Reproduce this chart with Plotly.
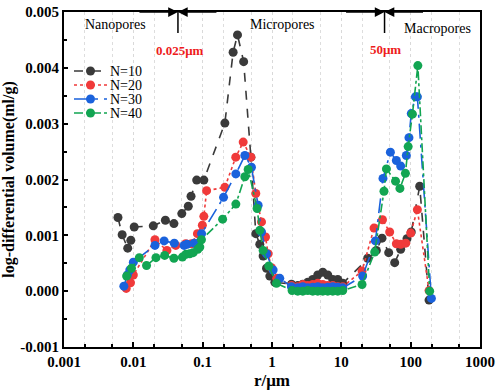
import numpy as np
import plotly.graph_objects as go

# ---------------- data ----------------
r_n10 = [0.0060, 0.0069, 0.0083, 0.0092, 0.0103, 0.0194, 0.029, 0.0385, 0.050, 0.062, 0.068,
         0.082, 0.104, 0.209, 0.275, 0.318, 0.390, 0.496, 0.584, 0.667, 0.745, 0.833, 0.93,
         1.10, 1.91, 2.35, 2.78, 3.28, 3.87, 4.57, 5.40, 6.37, 7.52, 8.88, 10.5, 24.0, 32.0,
         38.6, 48.2, 58.8, 71.8, 88.5, 102, 135, 184]
v_n10 = [0.00132, 0.00101, 0.00077, 0.00091, 0.00115, 0.00117, 0.00127, 0.00121, 0.00139,
         0.00152, 0.00170, 0.00199, 0.00199, 0.00301, 0.00428, 0.00459, 0.00411, 0.00240,
         0.00103, 0.00084, 0.00063, 0.00041, 0.00027, 0.00016, 0.000125, 0.00010, 0.000125,
         0.00016, 0.00021, 0.00029, 0.00034, 0.00029, 0.00021, 0.00021, 0.00014, 0.00059,
         0.00073, 0.00095, 0.00069, 0.00051, 0.00075, 0.00094, 0.00106, 0.00188, -0.00016]

r_n20 = [0.0079, 0.0091, 0.0100, 0.0205, 0.0305, 0.041, 0.057, 0.069, 0.084, 0.099, 0.104,
         0.114, 0.209, 0.300, 0.384, 0.496, 0.584, 0.706, 0.806, 0.879, 0.984, 1.17, 1.91,
         2.35, 2.78, 3.28, 3.87, 4.57, 5.40, 6.37, 7.52, 8.88, 10.47, 19.9, 29.6, 39.2, 49.8,
         62.2, 71.8, 85.0, 100, 125, 184]
v_n20 = [0.00005, 0.00015, 0.00029, 0.00092, 0.00073, 0.00082, 0.00085, 0.00085, 0.00103,
         0.00118, 0.00134, 0.00180, 0.00186, 0.00240, 0.00267, 0.00240, 0.00175, 0.00124,
         0.00097, 0.00067, 0.00042, 0.00023, 0.00010, 0.00008, 0.00012, 0.00010, 0.00012,
         0.00014, 0.00012, 0.00010, 0.00010, 0.00008, 0.00008, 0.00036, 0.00113, 0.00128,
         0.00106, 0.00085, 0.00084, 0.00086, 0.00104, 0.00146, 0.00001]

r_n30 = [0.0073, 0.0082, 0.0089, 0.0100, 0.0205, 0.0278, 0.039, 0.054, 0.0595, 0.0755, 0.0964,
         0.200, 0.301, 0.406, 0.505, 0.631, 0.706, 0.833, 1.038, 1.295, 1.91, 2.35, 2.78, 3.28,
         3.87, 4.57, 5.40, 6.37, 7.52, 8.88, 10.47, 20.3, 31.0, 39.9, 51.0, 62.2, 71.8, 86.6,
         94.5, 102, 117, 125, 199]
v_n30 = [0.00009, 0.00029, 0.00038, 0.00052, 0.00082, 0.00090, 0.00086, 0.00082, 0.00084,
         0.00086, 0.00103, 0.00168, 0.00210, 0.00243, 0.00222, 0.00154, 0.00106, 0.00067,
         0.00038, 0.00023, 0.00008, 0.00006, 0.00008, 0.00006, 0.00007, 0.00008, 0.00006,
         0.00007, 0.00008, 0.00007, 0.00006, 0.00027, 0.00090, 0.00202, 0.00249, 0.00234,
         0.00224, 0.00243, 0.00275, 0.00318, 0.00348, 0.00348, -0.00013]

r_n40 = [0.0080, 0.0094, 0.0122, 0.0155, 0.0212, 0.0283, 0.0385, 0.051, 0.0573, 0.065, 0.073,
         0.085, 0.091, 0.096, 0.194, 0.301, 0.406, 0.453, 0.610, 0.667, 0.745, 0.900, 1.16,
         1.95, 2.35, 2.78, 3.28, 3.87, 4.57, 5.40, 6.37, 7.52, 8.88, 10.47, 19.9, 30.3, 41.2,
         44.7, 60.5, 70.0, 84.0, 92.0, 106, 127, 188]
v_n40 = [0.00027, 0.00041, 0.00060, 0.00046, 0.00060, 0.00064, 0.00059, 0.00061, 0.00066,
         0.00067, 0.00069, 0.00075, 0.00079, 0.00092, 0.00129, 0.00156, 0.00205, 0.00218,
         0.00148, 0.00109, 0.00073, 0.00045, 0.00014, 0.00001, 0.00000, 0.00000, 0.00001,
         0.00000, 0.00000, 0.00000, 0.00000, 0.00000, 0.00000, 0.00001, 0.00012, 0.00070,
         0.00179, 0.00219, 0.00197, 0.00184, 0.00211, 0.00259, 0.00317, 0.00404, 0.00000]

series_names = ["N=10", "N=20", "N=30", "N=40"]
series_r = [r_n10, r_n20, r_n30, r_n40]
series_v = [v_n10, v_n20, v_n30, v_n40]
series_colors = ["#3a3a3a", "#f03a3a", "#1a62dc", "#12a552"]
series_dash = ["dash", "dot", "longdashdot", "dashdot"]

x_tickvals = [0.001, 0.01, 0.1, 1, 10, 100, 1000]
x_ticktext = ["0.001", "0.01", "0.1", "1", "10", "100", "1000"]
y_tickvals = [-0.001, 0.0, 0.001, 0.002, 0.003, 0.004, 0.005]
y_ticktext = ["-0.001", "0.000", "0.001", "0.002", "0.003", "0.004", "0.005"]

boundary_small = 0.044   # drawn position of the 0.025 µm marker
boundary_large = 42.0    # drawn position of the 50 µm marker

FONT = "Times New Roman, Liberation Serif, serif"

W, H = 498, 390
PL, PR, PT, PB = 64, 480, 12, 347          # plot area in pixels
PW, PH = PR - PL, PB - PT


def px(xp):
    return (xp - PL) / PW


def py(yp):
    return (PB - yp) / PH


fig = go.Figure()
for name, rr, vv, col, dash in zip(series_names, series_r, series_v, series_colors, series_dash):
    fig.add_trace(go.Scatter(
        x=rr, y=vv, name=name, mode="lines+markers",
        line=dict(color=col, width=1.6, dash=dash),
        marker=dict(color=col, size=9, symbol="circle"),
        showlegend=False,
    ))

xmin_log, xmax_log = -3, 3


def xfrac(v):
    return (np.log10(v) - xmin_log) / (xmax_log - xmin_log)


fx1 = xfrac(boundary_small)
fx2 = xfrac(boundary_large)

shapes = [
    dict(type="line", xref="paper", yref="paper", x0=fx1, x1=fx1, y0=1, y1=py(33),
         line=dict(color="black", width=1.5)),
    dict(type="line", xref="paper", yref="paper", x0=fx2, x1=fx2, y0=1, y1=py(33),
         line=dict(color="black", width=1.5)),
]

annotations = []
for fx, ax in [(fx1, -40), (fx1, 40), (fx2, -40), (fx2, 40)]:
    annotations.append(dict(
        xref="paper", yref="paper", x=fx, y=1, ax=ax, ay=0,
        showarrow=True, arrowhead=2, arrowsize=1.3, arrowwidth=1.5,
        arrowcolor="black", text="", standoff=0,
    ))


def label(xp, yp, text, size, color="black"):
    return dict(xref="paper", yref="paper", x=px(xp), y=py(yp), text=text,
                xanchor="center", yanchor="middle", showarrow=False,
                font=dict(family=FONT, size=size, color=color))


annotations += [
    label(115, 25, "Nanopores", 14),
    label(282, 25, "Micropores", 14),
    label(437, 28, "Macropores", 14),
    label(180, 51, "<b>0.025μm</b>", 13, "#ee1c1c"),
    label(385, 50, "<b>50μm</b>", 13, "#ee1c1c"),
]

# hand-built legend (compact rows as in the reference)
leg_rows = [71, 85, 99, 113]
for name, col, dash, ry in zip(series_names, series_colors, series_dash, leg_rows):
    shapes.append(dict(type="line", xref="paper", yref="paper",
                       x0=px(74), x1=px(107), y0=py(ry), y1=py(ry),
                       line=dict(color=col, width=1.6, dash=dash)))
    shapes.append(dict(type="circle", xref="paper", yref="paper",
                       xsizemode="pixel", ysizemode="pixel",
                       xanchor=px(90.5), yanchor=py(ry),
                       x0=-4.5, x1=4.5, y0=-4.5, y1=4.5,
                       fillcolor=col, line=dict(color=col, width=0)))
    annotations.append(dict(xref="paper", yref="paper", x=px(108), y=py(ry),
                            xanchor="left", yanchor="middle", text=name, showarrow=False,
                            font=dict(family=FONT, size=14, color="black")))

fig.update_layout(
    width=W, height=H,
    margin=dict(l=PL, r=W - PR, t=PT, b=H - PB, pad=0),
    paper_bgcolor="white", plot_bgcolor="white",
    font=dict(family=FONT, color="black"),
    showlegend=False,
    shapes=shapes, annotations=annotations,
)

fig.update_xaxes(
    type="log", range=[xmin_log, xmax_log], automargin=False,
    tickvals=x_tickvals, ticktext=x_ticktext,
    tickfont=dict(family=FONT, size=15, color="black", weight="bold"),
    showline=True, linecolor="black", linewidth=2, mirror=True,
    ticks="inside", ticklen=5, tickwidth=1.5, tickcolor="black",
    showgrid=True, gridcolor="#d9d9d9", griddash="dot", gridwidth=1,
    minor=dict(ticks="inside", ticklen=3, tickcolor="black", showgrid=True,
               gridcolor="#dddddd", griddash="dot", gridwidth=1),
    zeroline=False,
    title=dict(text="<b>r/μm</b>", font=dict(family=FONT, size=17, color="black"), standoff=6),
)
fig.update_yaxes(
    range=[-0.001, 0.005], automargin=False,
    tickvals=y_tickvals, ticktext=y_ticktext,
    tickfont=dict(family=FONT, size=15, color="black", weight="bold"),
    showline=True, linecolor="black", linewidth=2, mirror=True,
    ticks="inside", ticklen=4, tickwidth=1.5, tickcolor="black",
    showgrid=False, zeroline=False,
    minor=dict(ticks="inside", ticklen=3, tickcolor="black", dtick=0.0005, showgrid=False),
    title=dict(text="<b>log-differential volume(ml/g)</b>",
               font=dict(family=FONT, size=16, color="black"), standoff=4),
)

fig.write_html("out.html", config={"displayModeBar": False},
               post_script="document.body.style.margin='0px';document.body.style.padding='0px';")
